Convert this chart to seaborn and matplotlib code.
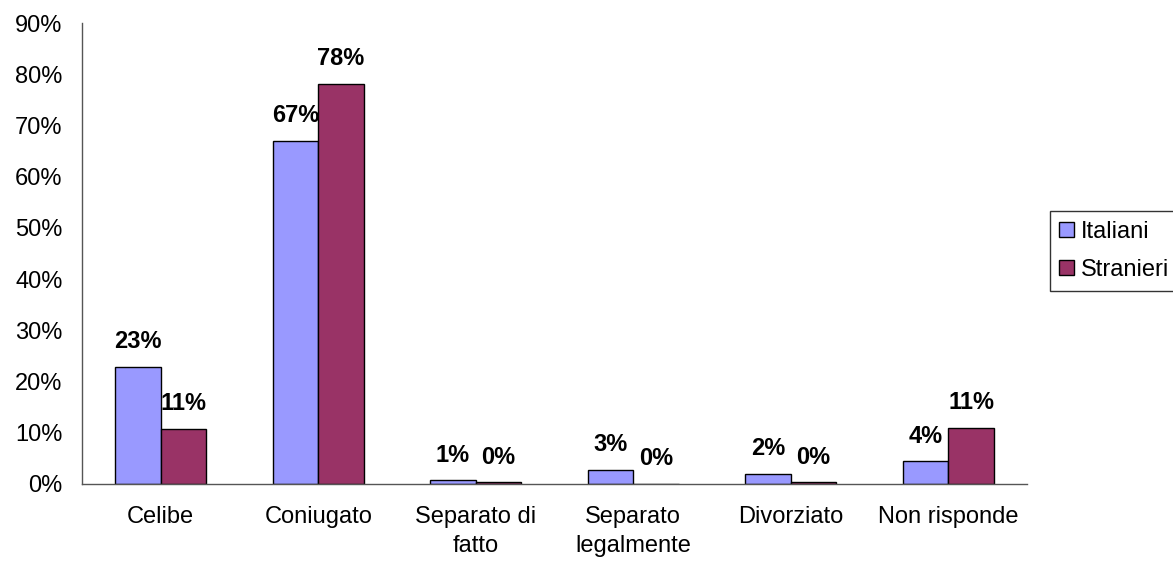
import matplotlib
matplotlib.use("Agg")
import matplotlib.pyplot as plt
import seaborn as sns
import pandas as pd
import numpy as np
from matplotlib.ticker import FuncFormatter

categories = ["Celibe", "Coniugato", "Separato di fatto", "Separato legalmente", "Divorziato", "Non risponde"]
tick_labels = ["Celibe", "Coniugato", "Separato di\nfatto", "Separato\nlegalmente", "Divorziato", "Non risponde"]
series = ["Italiani", "Stranieri"]
italiani = [22.8, 67.0, 0.7, 2.7, 2.0, 4.4]
stranieri = [10.7, 78.1, 0.3, 0.0, 0.3, 11.0]
colors = ["#9999FF", "#993366"]

df = pd.DataFrame({
    "cat": categories * 2,
    "serie": [series[0]] * 6 + [series[1]] * 6,
    "val": italiani + stranieri,
})

sns.set_style("white")
plt.rcParams["font.family"] = ["Liberation Sans", "DejaVu Sans"]
plt.rcParams["text.color"] = "black"
plt.rcParams["xtick.labelcolor"] = "black"
plt.rcParams["ytick.labelcolor"] = "black"

fig = plt.figure(figsize=(11.73, 5.65), dpi=100)
ax = fig.add_axes([82 / 1173, 81 / 565, (1027 - 82) / 1173, (484 - 23) / 565])

sns.barplot(data=df, x="cat", y="val", hue="serie", order=categories, hue_order=series,
            palette=colors, width=0.58, edgecolor="black", linewidth=1.0, saturation=1,
            ax=ax, legend=True)

for cont in ax.containers:
    ax.bar_label(cont, labels=[f"{v:.0f}%" for v in cont.datavalues], padding=10,
                 fontsize=17, fontweight="bold", color="black")

ax.set_ylim(0, 90)
ax.set_yticks(np.arange(0, 91, 10))
ax.yaxis.set_major_formatter(FuncFormatter(lambda v, p: f"{v:.0f}%"))
ax.set_xlim(-0.5, 5.5)
ax.set_xticks(range(6))
ax.set_xticklabels(tick_labels, linespacing=1.4)
ax.set_xticks(np.arange(-0.5, 6.0, 1), minor=True)
ax.tick_params(axis="x", which="major", length=0, pad=16, labelsize=17)
ax.tick_params(axis="x", which="minor", length=6, width=1, color="#555555", direction="out")
ax.tick_params(axis="y", length=6, width=1, color="#555555", direction="out", labelsize=17, pad=8)
ax.set_xlabel("")
ax.set_ylabel("")
for s in ["top", "right"]:
    ax.spines[s].set_visible(False)
for s in ["left", "bottom"]:
    ax.spines[s].set_color("#555555")
    ax.spines[s].set_linewidth(1)

handles, labels = ax.get_legend_handles_labels()
ax.get_legend().remove()
leg = fig.legend(handles, labels, loc="center left", bbox_to_anchor=(1050 / 1173, 1 - 251 / 565),
                 frameon=True, fancybox=False, edgecolor="black", fontsize=17,
                 handlelength=0.6, handleheight=0.6, handletextpad=0.3, borderpad=0.4,
                 labelspacing=0.7, borderaxespad=0)
leg.get_frame().set_linewidth(1)

fig.savefig("out.png", dpi=100)
